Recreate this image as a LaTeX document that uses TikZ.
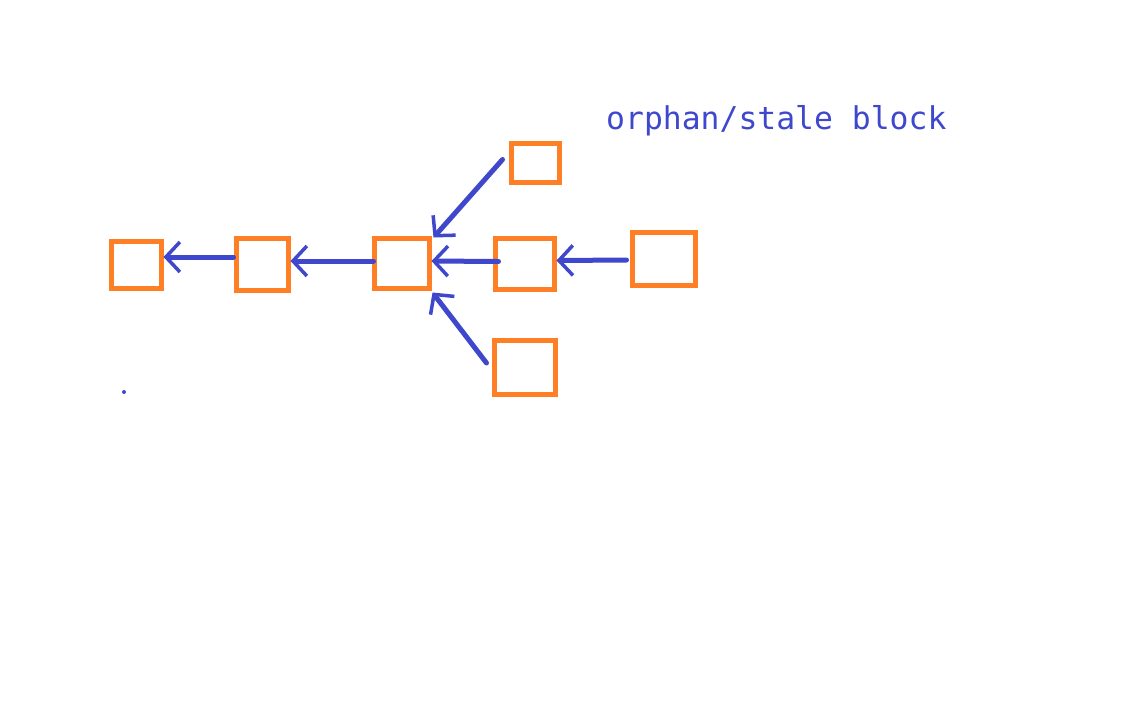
\documentclass[tikz,border=0pt]{standalone}
\usepackage{fontspec}
\newfontfamily\monofont{DejaVu Sans Mono}
\usetikzlibrary{arrows.meta}
\definecolor{blockorange}{HTML}{FF7F27}
\definecolor{inkblue}{HTML}{3F48CC}
\begin{document}
\begin{tikzpicture}[x=1pt,y=-1pt,
  blockbox/.style={draw=blockorange, line width=5pt, rectangle, inner sep=0pt, fill=white},
  arr/.style={draw=inkblue, line width=5pt, line cap=round,
    -{Straight Barb[length=14pt,width=30pt,line width=3.5pt]}},
  label/.style={inkblue, font=\monofont\fontsize{31.4}{36}\selectfont, anchor=base west, inner sep=0pt}]
\useasboundingbox (0,0) rectangle (1146,716);
\fill[white] (0,0) rectangle (1146,716);
% blocks (centers and stroke-centered sizes)
\node[blockbox, minimum width=50pt, minimum height=47pt] (A) at (136,264.5) {};
\node[blockbox, minimum width=52pt, minimum height=52pt] (B) at (262,264) {};
\node[blockbox, minimum width=55pt, minimum height=50pt] (C) at (401.5,263) {};
\node[blockbox, minimum width=48pt, minimum height=39pt] (D) at (535,162.5) {};
\node[blockbox, minimum width=59pt, minimum height=51pt] (E) at (524.5,263.5) {};
\node[blockbox, minimum width=63pt, minimum height=53pt] (F) at (663.5,258.5) {};
\node[blockbox, minimum width=61pt, minimum height=54pt] (G) at (524.5,367) {};
% connectors
\draw[arr] ([yshift=7pt]B.west) -- ([yshift=7.5pt]A.east);
\draw[arr] ([yshift=2pt,xshift=2pt]C.west) -- ([yshift=3pt]B.east);
\draw[arr] ([yshift=2pt,xshift=6pt]E.west) -- ([yshift=2pt]C.east);
\draw[arr] ([yshift=-1.5pt,xshift=-3pt]F.west) -- ([yshift=3pt]E.east);
\draw[arr] ([xshift=-6pt,yshift=3pt]D.west) -- ([xshift=2pt,yshift=-2pt]C.north east);
\draw[arr] ([xshift=-5pt,yshift=4pt]G.west) -- ([xshift=1pt,yshift=-2pt]C.south east);
% stray dot
\fill[inkblue] (124,392) circle (2);
% label
\node[label] (T) at (606,129) {orphan/stale block};
\end{tikzpicture}
\end{document}
